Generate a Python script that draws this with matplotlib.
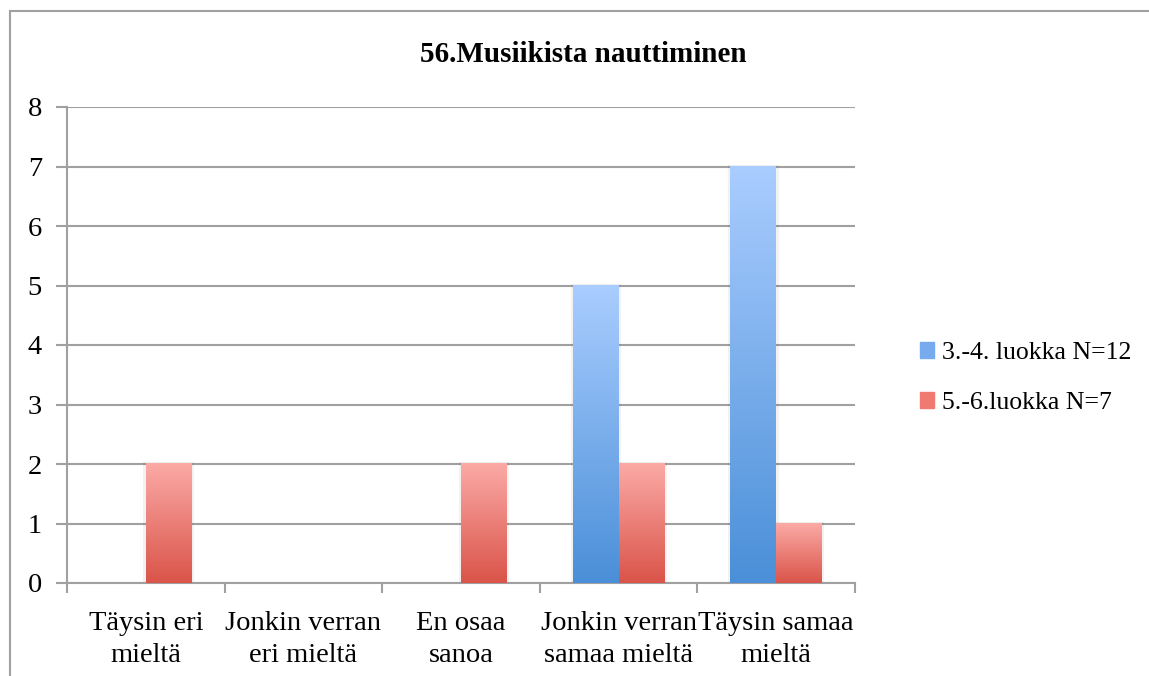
import numpy as np
import matplotlib.pyplot as plt
from matplotlib.lines import Line2D
from matplotlib.colors import LinearSegmentedColormap

# Data
categories = ['Täysin eri\nmieltä', 'Jonkin verran\neri mieltä', 'En osaa\nsanoa',
              'Jonkin verran\nsamaa mieltä', 'Täysin samaa\nmieltä']
luokka_34 = [0, 0, 0, 5, 7]
luokka_56 = [2, 0, 2, 2, 1]
series_names = ['3.-4. luokka N=12', '5.-6.luokka N=7']
title = '56.Musiikista nauttiminen'

plt.rcParams['font.family'] = ['Liberation Serif', 'DejaVu Serif']

fig = plt.figure(figsize=(11.49, 6.76), dpi=100)
ax = fig.add_axes([67 / 1149, 1 - 583 / 676, (855 - 67) / 1149, (583 - 107) / 676])

x = np.arange(len(categories))
w = 0.29
grid_col = '#a0a0a0'

blue_cmap = LinearSegmentedColormap.from_list('b', ['#4a8fd8', '#aacdff'])
red_cmap = LinearSegmentedColormap.from_list('r', ['#da5449', '#fbaaa6'])

bars1 = ax.bar(x - w / 2, luokka_34, w, color='none', label=series_names[0], zorder=3)
bars2 = ax.bar(x + w / 2, luokka_56, w, color='none', label=series_names[1], zorder=3)

grad = np.linspace(0, 1, 256).reshape(-1, 1)
for bars, cmap in [(bars1, blue_cmap), (bars2, red_cmap)]:
    for b in bars:
        h = b.get_height()
        if h <= 0:
            continue
        x0 = b.get_x()
        x1 = x0 + b.get_width()
        # soft shadow
        ax.bar(x0 + b.get_width() / 2, h + 0.03, b.get_width() + 0.03, bottom=0,
               color='#000000', alpha=0.05, zorder=2.5, linewidth=0)
        ax.imshow(grad, extent=(x0, x1, 0, h), origin='lower', cmap=cmap,
                  aspect='auto', zorder=3)

ax.set_xlim(-0.5, 4.5)
ax.set_ylim(0, 8)
ax.set_yticks(range(0, 9))
ax.yaxis.grid(True, color=grid_col, linewidth=1.5, zorder=1)
ax.set_axisbelow(True)

ax.set_xticks(x)
ax.set_xticklabels(categories, fontsize=20.5, linespacing=1.38)
ax.set_xticks(np.arange(-0.5, 5, 1), minor=True)
ax.tick_params(axis='x', which='major', length=0, pad=20)
ax.tick_params(axis='x', which='minor', length=7, width=1.5, color=grid_col, direction='out')
ax.tick_params(axis='y', length=8, width=1.5, color=grid_col, labelsize=20.5, pad=10)

for s in ['top', 'right']:
    ax.spines[s].set_visible(False)
for s in ['left', 'bottom']:
    ax.spines[s].set_color(grid_col)
    ax.spines[s].set_linewidth(1.5)

fig.text(583 / 1149, 1 - 55 / 676, title, fontsize=21, fontweight='bold',
         ha='center', va='center')

handles = [plt.Rectangle((0, 0), 1, 1, color='#77aaee'), plt.Rectangle((0, 0), 1, 1, color='#ee7a72')]
fig.legend(handles, series_names, loc='center left', bbox_to_anchor=(897 / 1149, 1 - 378 / 676),
           frameon=False, fontsize=18.5, handlelength=0.55, handleheight=0.55,
           handletextpad=0.3, labelspacing=1.1)

# outer chart frame
fx = 10 / 1149
fy = 1 - 11 / 676
fig.add_artist(Line2D([fx, fx], [0, fy], color=grid_col, linewidth=1.5))
fig.add_artist(Line2D([fx, 1], [fy, fy], color=grid_col, linewidth=1.5))

fig.savefig('out.png', dpi=100)
